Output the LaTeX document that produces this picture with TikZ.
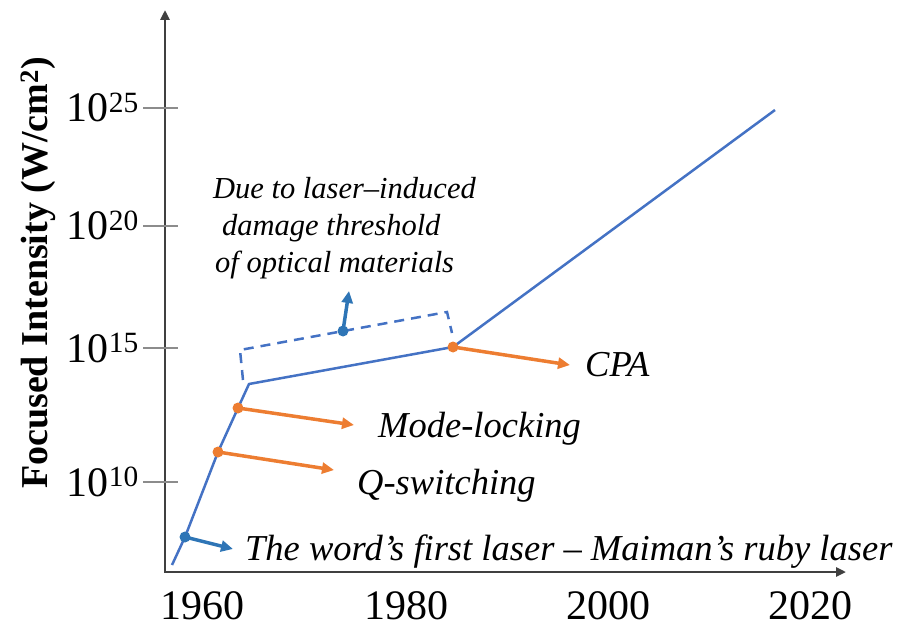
\documentclass[tikz,border=0pt]{standalone}
\usepackage{fontspec}
\setmainfont{Liberation Serif}
\usetikzlibrary{arrows.meta,positioning}
\definecolor{lineblue}{RGB}{68,114,196}
\definecolor{markblue}{RGB}{46,117,182}
\definecolor{laserorange}{RGB}{237,125,49}
\definecolor{axisgray}{RGB}{64,64,64}
\definecolor{tickgray}{RGB}{140,140,140}

\begin{document}
\begin{tikzpicture}[x=1pt, y=-1pt,
    pointer/.style={line width=3.5pt, -{Triangle[length=12pt,width=11pt]}},
    note/.style={font=\fontsize{36.5}{40}\selectfont\itshape, anchor=base west, inner sep=0pt}]
    \useasboundingbox (0,0) rectangle (902,628);

    % Axes
    \coordinate (origin) at (165,572);
    \coordinate (ytop) at (165,10);
    \coordinate (xend) at (846,572);
    \draw[axisgray, line width=2.5pt, {Triangle[length=10pt,width=9pt]}-{Triangle[length=10pt,width=9pt]}] (ytop) -- (origin) -- (xend);

    % Intensity ticks
    \foreach \y/\e in {108/25, 226/20, 348/15, 482/10} {
        \draw[tickgray, line width=1.5pt] (143,\y) -- (178,\y);
        \node[anchor=base east, inner sep=0pt, font=\fontsize{42}{44}\selectfont] (tick\e) at (139,\y+14) {10\textsuperscript{\e}};
    }

    % Years
    \foreach \yr/\x in {1960/202, 1980/406, 2000/608, 2020/810}
        \node[anchor=base, inner sep=0pt, font=\fontsize{42}{44}\selectfont] (year\yr) at (\x,619) {\yr};

    \node[rotate=90, font=\fontsize{38}{40}\selectfont\bfseries] (ylabel) at (38,273) {Focused Intensity (W/cm\textsuperscript{2})};

    % Intensity curve
    \coordinate (start) at (172,565);
    \coordinate (first) at (185,537);
    \coordinate (qswitch) at (218,452);
    \coordinate (mlock) at (238,408);
    \coordinate (knee) at (249,384);
    \coordinate (cpa) at (453,347);
    \coordinate (peak) at (775,110);
    \draw[lineblue, line width=2.5pt, line join=round] (start) -- (first) -- (qswitch) -- (mlock) -- (knee) -- (cpa) -- (peak);

    % Damage threshold bracket
    \coordinate (brA) at (243,380);
    \coordinate (brB) at (240,350);
    \coordinate (brC) at (447,312);
    \coordinate (brD) at (452,333);
    \coordinate (brmid) at (343,331);
    \draw[lineblue, line width=2.5pt, dash pattern=on 10pt off 7pt] (brA) -- (brB) -- (brC) -- (brD);

    % Arrow tips
    \coordinate (firsttip) at (233,549);
    \coordinate (qtip) at (334,470);
    \coordinate (mtip) at (354,425);
    \coordinate (cpatip) at (570,365);
    \coordinate (brtip) at (349,291);

    \draw[pointer, markblue] (first) -- (firsttip);
    \draw[pointer, markblue] (brmid) -- (brtip);
    \draw[pointer, laserorange] (qswitch) -- (qtip);
    \draw[pointer, laserorange] (mlock) -- (mtip);
    \draw[pointer, laserorange] (cpa) -- (cpatip);

    \fill[markblue] (first) circle (5.5pt) (brmid) circle (5.5pt);
    \fill[laserorange] (qswitch) circle (5.5pt) (mlock) circle (5.5pt) (cpa) circle (5.5pt);

    % Labels
    \node[note] (firstlabel) at (245,560) {The word’s first laser -- Maiman’s ruby laser};
    \node[note] (qlabel) at (357,494) {Q-switching};
    \node[note] (mlabel) at (378,437) {Mode-locking};
    \node[note] (cpalabel) at (585,376) {CPA};
    \node[font=\fontsize{30.5}{37}\selectfont\itshape, align=left, inner sep=0pt, anchor=west] (damage) at (213,228) {Due to laser--induced\\\hspace*{9pt}damage threshold\\\hspace*{2pt}of optical materials};
\end{tikzpicture}
\end{document}
